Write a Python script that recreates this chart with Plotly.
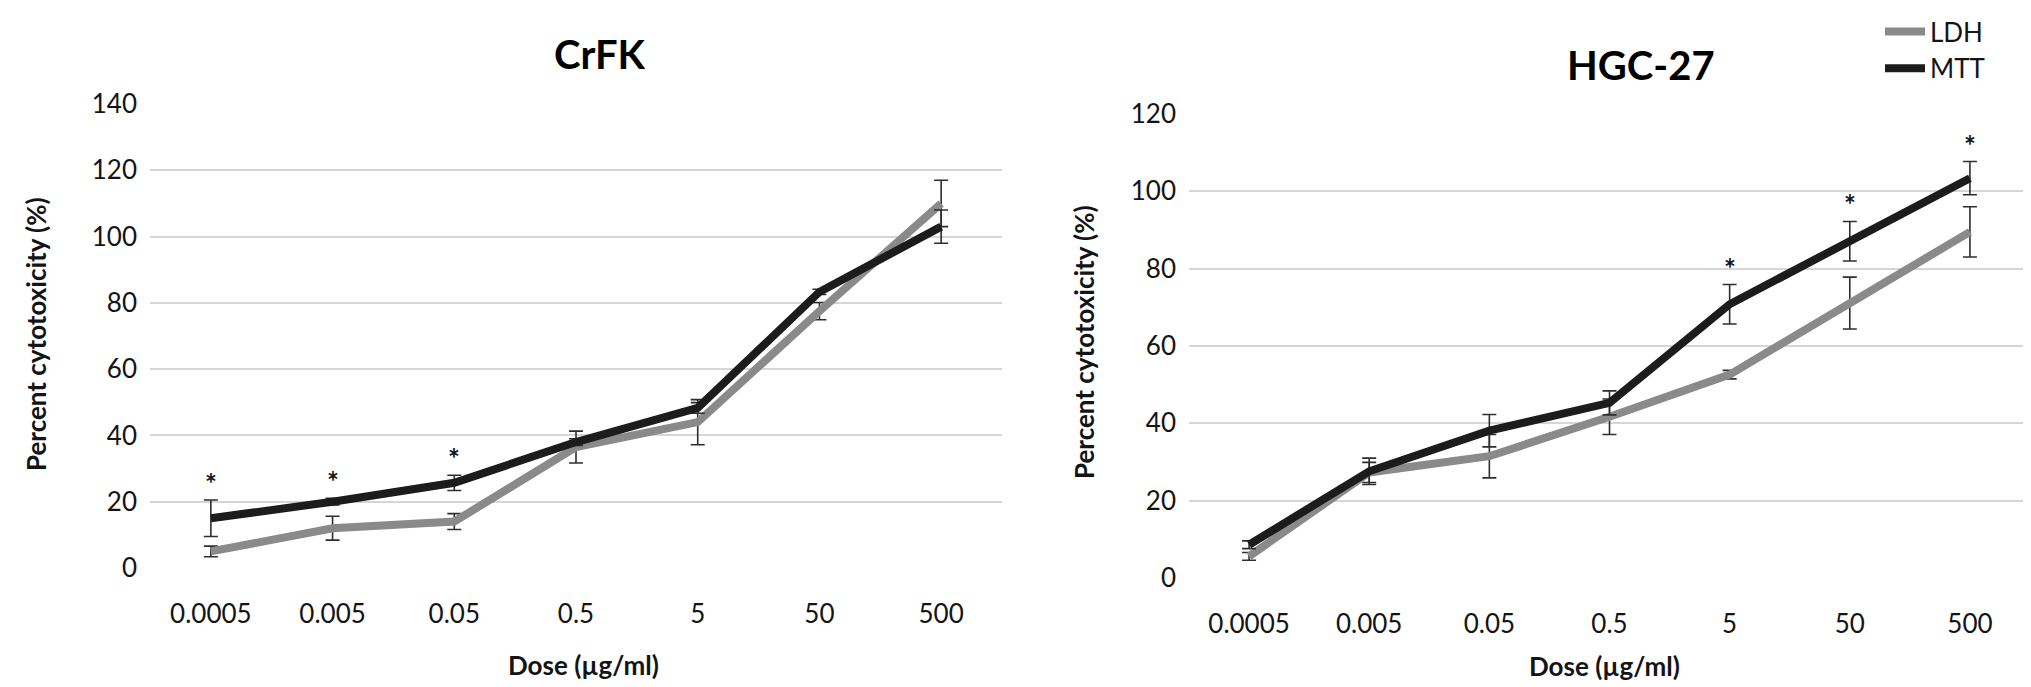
import plotly.graph_objects as go

W, H = 2031, 687

doses = ["0.0005", "0.005", "0.05", "0.5", "5", "50", "500"]

crfk_ldh = [5.0, 12.0, 14.0, 36.5, 44.0, 77.5, 110.0]
crfk_ldh_err = [1.6, 3.6, 2.4, 4.8, 6.8, 2.6, 7.0]
crfk_mtt = [15.0, 20.0, 25.7, 38.0, 48.3, 83.3, 103.0]
crfk_mtt_err = [5.5, 1.0, 2.3, 1.0, 1.6, 0.8, 5.0]
crfk_sig = [True, True, True, False, False, False, False]

hgc_ldh = [5.6, 27.3, 31.5, 41.7, 52.6, 71.1, 89.5]
hgc_ldh_err = [1.0, 2.6, 5.6, 4.6, 1.1, 6.7, 6.5]
hgc_mtt = [8.6, 27.6, 38.1, 45.3, 70.8, 87.1, 103.4]
hgc_mtt_err = [1.0, 3.4, 4.2, 3.1, 5.1, 5.1, 4.3]
hgc_sig = [False, False, False, False, True, True, True]

titles = ["CrFK", "HGC-27"]
x_title = "Dose (µg/ml)"
y_title = "Percent cytotoxicity (%)"

LDH_COLOR = "#8a8a8a"
MTT_COLOR = "#1c1c1c"
ERR_COLOR = "#2e2e2e"
FONT = "Lato"
TXT = "#141414"

def px_x(p):
    return p / W

def px_y(p):
    return 1 - p / H

fig = go.Figure()

panels = [
    dict(ldh=crfk_ldh, ldh_err=crfk_ldh_err, mtt=crfk_mtt, mtt_err=crfk_mtt_err,
         sig=crfk_sig, xa="x", ya="y", legend=False),
    dict(ldh=hgc_ldh, ldh_err=hgc_ldh_err, mtt=hgc_mtt, mtt_err=hgc_mtt_err,
         sig=hgc_sig, xa="x2", ya="y2", legend=True),
]

annotations = []
for p in panels:
    for name, vals, errs, col in [("LDH", p["ldh"], p["ldh_err"], LDH_COLOR),
                                  ("MTT", p["mtt"], p["mtt_err"], MTT_COLOR)]:
        fig.add_trace(go.Scatter(
            x=doses, y=vals, mode="lines", name=name,
            line=dict(color=col, width=8),
            error_y=dict(type="data", array=errs, visible=True,
                         color=ERR_COLOR, thickness=1.6, width=7),
            xaxis=p["xa"], yaxis=p["ya"], legendgroup=name,
            showlegend=p["legend"],
        ))
    for i, s in enumerate(p["sig"]):
        if s:
            top = max(p["ldh"][i] + p["ldh_err"][i], p["mtt"][i] + p["mtt_err"][i])
            annotations.append(dict(
                x=i, y=top, xref=p["xa"], yref=p["ya"], text="<b>*</b>",
                showarrow=False, yshift=17, yanchor="middle",
                font=dict(family=FONT, size=28, color=TXT)))

tick_font = dict(family=FONT, size=26, color=TXT)
axis_common_x = dict(type="category", range=[-0.5, 6.5], showgrid=False,
                     showline=False, zeroline=False, ticks="",
                     tickfont=tick_font, ticklabelstandoff=28, automargin=False)
axis_common_y = dict(dtick=20, showgrid=True, gridcolor="#d6d6d6", gridwidth=2,
                     zeroline=False, showline=False, ticks="",
                     tickfont=tick_font, ticklabelstandoff=12, automargin=False)

# chart titles
annotations += [
    dict(x=px_x(592), y=px_y(46), xref="paper", yref="paper", text="<b>CrFK</b>",
         showarrow=False, xanchor="center", yanchor="middle",
         font=dict(family=FONT, size=40, color="#000")),
    dict(x=px_x(1633), y=px_y(57), xref="paper", yref="paper", text="<b>HGC-27</b>",
         showarrow=False, xanchor="center", yanchor="middle",
         font=dict(family=FONT, size=40, color="#000")),
]
# axis titles
for xc, yc in [(575, 657), (1596, 658)]:
    annotations.append(dict(x=px_x(xc), y=px_y(yc), xref="paper", yref="paper",
                            text="<b>" + x_title + "</b>", showarrow=False,
                            xanchor="center", yanchor="middle",
                            font=dict(family=FONT, size=26, color=TXT)))
for xc, yc in [(28, 326), (1076, 334)]:
    annotations.append(dict(x=px_x(xc), y=px_y(yc), xref="paper", yref="paper",
                            text="<b>" + y_title + "</b>", showarrow=False,
                            textangle=-90, xanchor="center", yanchor="middle",
                            font=dict(family=FONT, size=26, color=TXT)))

fig.update_layout(
    width=W, height=H,
    margin=dict(l=0, r=0, t=0, b=0),
    paper_bgcolor="white", plot_bgcolor="white",
    showlegend=True,
    legend=dict(x=px_x(1872), y=px_y(0), xanchor="left", yanchor="top",
                font=dict(family=FONT, size=26, color=TXT),
                bgcolor="rgba(0,0,0,0)", tracegroupgap=0, itemwidth=40),
    xaxis=dict(domain=[px_x(142), px_x(994)], anchor="y", **axis_common_x),
    yaxis=dict(domain=[px_y(560), px_y(96)], range=[0, 140], anchor="x", **axis_common_y),
    xaxis2=dict(domain=[px_x(1181), px_x(2022)], anchor="y2", **axis_common_x),
    yaxis2=dict(domain=[px_y(570), px_y(106)], range=[0, 120], anchor="x2", **axis_common_y),
    annotations=annotations,
)

fig.write_html("out.html")
